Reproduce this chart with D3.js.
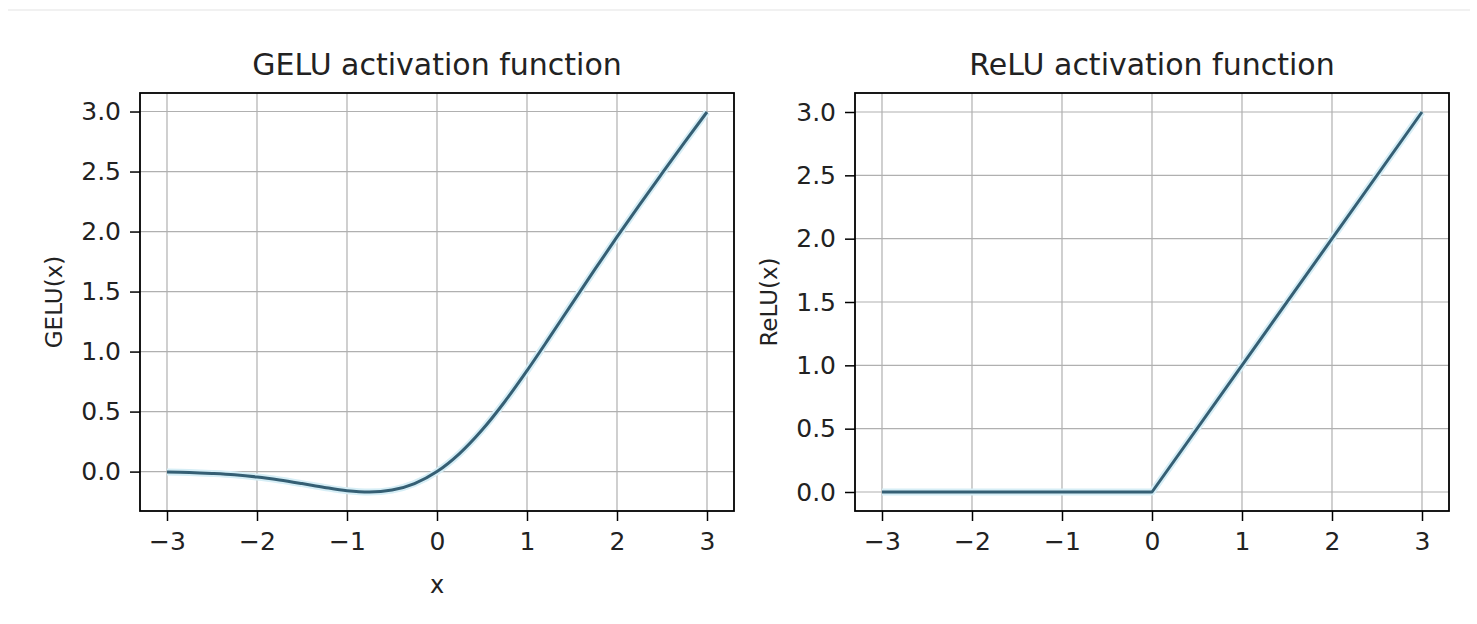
<!DOCTYPE html>
<html><head><meta charset="utf-8">
<script src="https://cdn.jsdelivr.net/npm/d3@7"></script>
<style>
body{margin:0;background:#fff;}
svg{display:block;font-family:"DejaVu Sans",sans-serif;}
</style></head>
<body><svg id="c" width="1477" height="624"></svg>
<script>
// Data
const geluX = [-3,-2.75,-2.5,-2.25,-2,-1.75,-1.5,-1.25,-1,-0.75,-0.5,-0.25,0,0.25,0.5,0.75,1,1.25,1.5,1.75,2,2.25,2.5,2.75,3];
const geluY = [-0.004,-0.008,-0.016,-0.027,-0.045,-0.070,-0.100,-0.132,-0.159,-0.170,-0.154,-0.100,0,0.150,0.346,0.580,0.841,1.118,1.400,1.680,1.955,2.223,2.484,2.742,2.996];
const reluX = [-3,0,3];
const reluY = [0,0,3];
const xTicks = [-3,-2,-1,0,1,2,3];
const yTicks = [0,0.5,1,1.5,2,2.5,3];
const titles = ["GELU activation function","ReLU activation function"];
const yLabels = ["GELU(x)","ReLU(x)"];
const xLabels = ["x",""];

const svg = d3.select("#c");
// faint top line
svg.append("line").attr("x1",8).attr("x2",1470).attr("y1",10).attr("y2",10)
  .attr("stroke","#ececec").attr("stroke-width",1.5);

const panels = [
  {x0:140,x1:734,xs:geluX,ys:geluY,curve:d3.curveMonotoneX},
  {x0:855,x1:1449,xs:reluX,ys:reluY,curve:d3.curveLinear}
];
const yTop=93,yBot=511;
const fmtX = d => d<0 ? "\u2212"+Math.abs(d) : String(d);
const fmtY = d => d3.format(".1f")(d);

panels.forEach((p,i)=>{
  const xe = d3.extent(p.xs), ye = d3.extent(p.ys);
  const xp = (xe[1]-xe[0])*0.05, yp=(ye[1]-ye[0])*0.05;
  const x = d3.scaleLinear().domain([xe[0]-xp,xe[1]+xp]).range([p.x0,p.x1]);
  const y = d3.scaleLinear().domain([ye[0]-yp,ye[1]+yp]).range([yBot,yTop]);
  const g = svg.append("g");
  // grid
  g.selectAll(".gx").data(xTicks).join("line")
    .attr("x1",d=>x(d)).attr("x2",d=>x(d)).attr("y1",yTop).attr("y2",yBot)
    .attr("stroke","#b0b0b0").attr("stroke-width",1.2);
  g.selectAll(".gy").data(yTicks).join("line")
    .attr("y1",d=>y(d)).attr("y2",d=>y(d)).attr("x1",p.x0).attr("x2",p.x1)
    .attr("stroke","#b0b0b0").attr("stroke-width",1.2);
  // line
  const line = d3.line().x((d,j)=>x(p.xs[j])).y((d,j)=>y(p.ys[j])).curve(p.curve);
  g.append("path").datum(p.ys).attr("d",line).attr("fill","none")
    .attr("stroke","#d6eef6").attr("stroke-width",7).attr("stroke-linejoin","round");
  g.append("path").datum(p.ys).attr("d",line).attr("fill","none")
    .attr("stroke","#355f74").attr("stroke-width",3).attr("stroke-linejoin","round");
  // axes
  const ax = g.append("g").attr("transform",`translate(0,${yBot})`)
    .call(d3.axisBottom(x).tickValues(xTicks).tickFormat(fmtX).tickSizeInner(10).tickSizeOuter(0).tickPadding(11));
  const ay = g.append("g").attr("transform",`translate(${p.x0},0)`)
    .call(d3.axisLeft(y).tickValues(yTicks).tickFormat(fmtY).tickSizeInner(10).tickSizeOuter(0).tickPadding(9));
  [ax,ay].forEach(a=>{
    a.select(".domain").remove();
    a.selectAll("line").attr("stroke","#000").attr("stroke-width",1.5);
    a.selectAll("text").attr("fill","#222").style("font-size","25px").style("font-family","DejaVu Sans");
  });
  // spines
  g.append("rect").attr("x",p.x0).attr("y",yTop).attr("width",p.x1-p.x0).attr("height",yBot-yTop)
    .attr("fill","none").attr("stroke","#000").attr("stroke-width",1.8);
  // title
  g.append("text").attr("x",(p.x0+p.x1)/2).attr("y",75).attr("text-anchor","middle")
    .style("font-size","30px").attr("fill","#222").text(titles[i]);
  // y label
  g.append("text").attr("transform",`translate(${p.x0-78},${(yTop+yBot)/2}) rotate(-90)`)
    .attr("text-anchor","middle").style("font-size","23px").attr("fill","#222").text(yLabels[i]);
  if(xLabels[i]) g.append("text").attr("x",x(0)).attr("y",593).attr("text-anchor","middle")
    .style("font-size","24px").attr("fill","#222").text(xLabels[i]);
});
</script></body></html>
